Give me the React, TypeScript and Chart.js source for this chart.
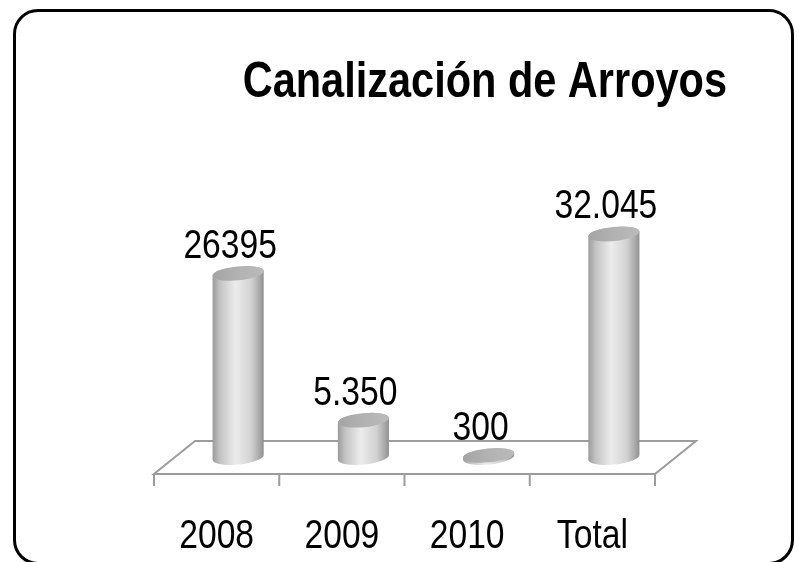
import React, { useEffect, useRef } from 'react';
import { Chart, registerables } from 'chart.js';

Chart.register(...registerables);

const categories: string[] = ['2008', '2009', '2010', 'Total'];
const values: number[] = [26395, 5350, 300, 32045];
const valueLabels: string[] = ['26395', '5.350', '300', '32.045'];
const chartTitle = 'Canalización de Arroyos';
const yMax = 40000;

const FONT = "'Liberation Sans', Arial, sans-serif";
const NARROW_SCALE = 0.82;

const DEPTH_X = 41;
const DEPTH_Y = -33;

function narrowText(ctx: any, text: string, x: number, y: number, font: string, align: CanvasTextAlign, sx: number) {
  ctx.save();
  ctx.translate(x, y);
  ctx.scale(sx, 1);
  ctx.font = font;
  ctx.fillStyle = '#000';
  ctx.textAlign = align;
  ctx.textBaseline = 'alphabetic';
  ctx.fillText(text, 0, 0);
  ctx.restore();
}

const cylinderPlugin = {
  id: 'cylinders',
  beforeDatasetsDraw(chart: any) {
    const { ctx, chartArea } = chart;
    const { left, right, bottom } = chartArea;
    ctx.save();
    ctx.strokeStyle = '#9c9c9c';
    ctx.lineWidth = 2;
    ctx.beginPath();
    ctx.moveTo(left, bottom);
    ctx.lineTo(right, bottom);
    ctx.lineTo(right + DEPTH_X, bottom + DEPTH_Y);
    ctx.lineTo(left + DEPTH_X, bottom + DEPTH_Y);
    ctx.closePath();
    ctx.stroke();
    const n = categories.length;
    const step = (right - left) / n;
    ctx.beginPath();
    for (let i = 0; i <= n; i++) {
      const x = left + i * step;
      ctx.moveTo(x, bottom);
      ctx.lineTo(x, bottom + 12);
    }
    ctx.stroke();
    ctx.restore();

    // category labels from the x scale
    const xs = chart.scales.x;
    xs.ticks.forEach((t: any, i: number) => {
      const px = xs.getPixelForTick(i);
      const label = String(xs.getLabelForValue(t.value));
      narrowText(ctx, label, px, bottom + 74, `41px ${FONT}`, 'center', NARROW_SCALE);
    });
  },
  afterDatasetsDraw(chart: any) {
    const { ctx } = chart;
    const meta = chart.getDatasetMeta(0);
    const dx = DEPTH_X / 2 + 1;
    const dy = DEPTH_Y / 2;
    const rot = -0.1;
    meta.data.forEach((el: any, i: number) => {
      const { x, y, base, width } = el.getProps(['x', 'y', 'base', 'width'], true);
      const cx = x + dx;
      const topY = y + dy;
      const botY = base + dy;
      const rx = width / 2;
      const ry = 7;
      ctx.save();
      const g = ctx.createLinearGradient(cx - rx, 0, cx + rx, 0);
      g.addColorStop(0, '#9a9a9a');
      g.addColorStop(0.15, '#c4c4c4');
      g.addColorStop(0.45, '#ececec');
      g.addColorStop(0.75, '#d2d2d2');
      g.addColorStop(0.92, '#a8a8a8');
      g.addColorStop(1, '#8e8e8e');
      ctx.beginPath();
      ctx.ellipse(cx, botY, rx, ry, rot, 0, Math.PI, false);
      ctx.lineTo(cx - rx * Math.cos(rot), topY - rx * Math.sin(rot));
      ctx.ellipse(cx, topY, rx, ry, rot, Math.PI, Math.PI * 2, false);
      ctx.closePath();
      ctx.fillStyle = g;
      ctx.fill();
      const tg = ctx.createLinearGradient(cx - rx, 0, cx + rx, 0);
      tg.addColorStop(0, '#a4a4a4');
      tg.addColorStop(0.5, '#b2b2b2');
      tg.addColorStop(1, '#bababa');
      ctx.beginPath();
      ctx.ellipse(cx, topY, rx, ry, rot, 0, Math.PI * 2);
      ctx.fillStyle = tg;
      ctx.fill();
      ctx.restore();
      narrowText(ctx, valueLabels[i], x + 13.5, topY - 15.5, `41px ${FONT}`, 'center', NARROW_SCALE);
    });
  },
  afterDraw(chart: any) {
    narrowText(chart.ctx, chartTitle, 727, 97, `bold 50px ${FONT}`, 'right', 0.83);
  },
};

export default function App() {
  const ref = useRef<HTMLCanvasElement | null>(null);
  useEffect(() => {
    if (!ref.current) return;
    const chart = new Chart(ref.current, {
      type: 'bar',
      data: {
        labels: categories,
        datasets: [
          {
            data: values,
            backgroundColor: 'rgba(0,0,0,0)',
            borderWidth: 0,
            barPercentage: 0.41,
            categoryPercentage: 1,
          },
        ],
      },
      options: {
        animation: false,
        responsive: true,
        maintainAspectRatio: false,
        layout: { padding: { left: 154, right: 144, top: 195, bottom: 88 } },
        plugins: {
          legend: { display: false },
          title: { display: false },
          tooltip: { enabled: false },
        },
        scales: {
          x: {
            grid: { display: false, drawTicks: false },
            border: { display: false },
            ticks: { display: false },
          },
          y: { display: false, min: 0, max: yMax },
        },
      },
      plugins: [cylinderPlugin],
    });
    return () => chart.destroy();
  }, []);
  return (
    <div style={{ position: 'fixed', left: 0, top: 0, width: 799, height: 562, background: '#fff', overflow: 'hidden' }}>
      <canvas ref={ref} style={{ position: 'absolute', left: 0, top: 0, width: 799, height: 562 }} />
      <div
        style={{
          position: 'absolute',
          left: 13,
          top: 9,
          width: 781,
          height: 556,
          border: '3px solid #000',
          borderRadius: 25,
          boxSizing: 'border-box',
          pointerEvents: 'none',
        }}
      />
    </div>
  );
}
